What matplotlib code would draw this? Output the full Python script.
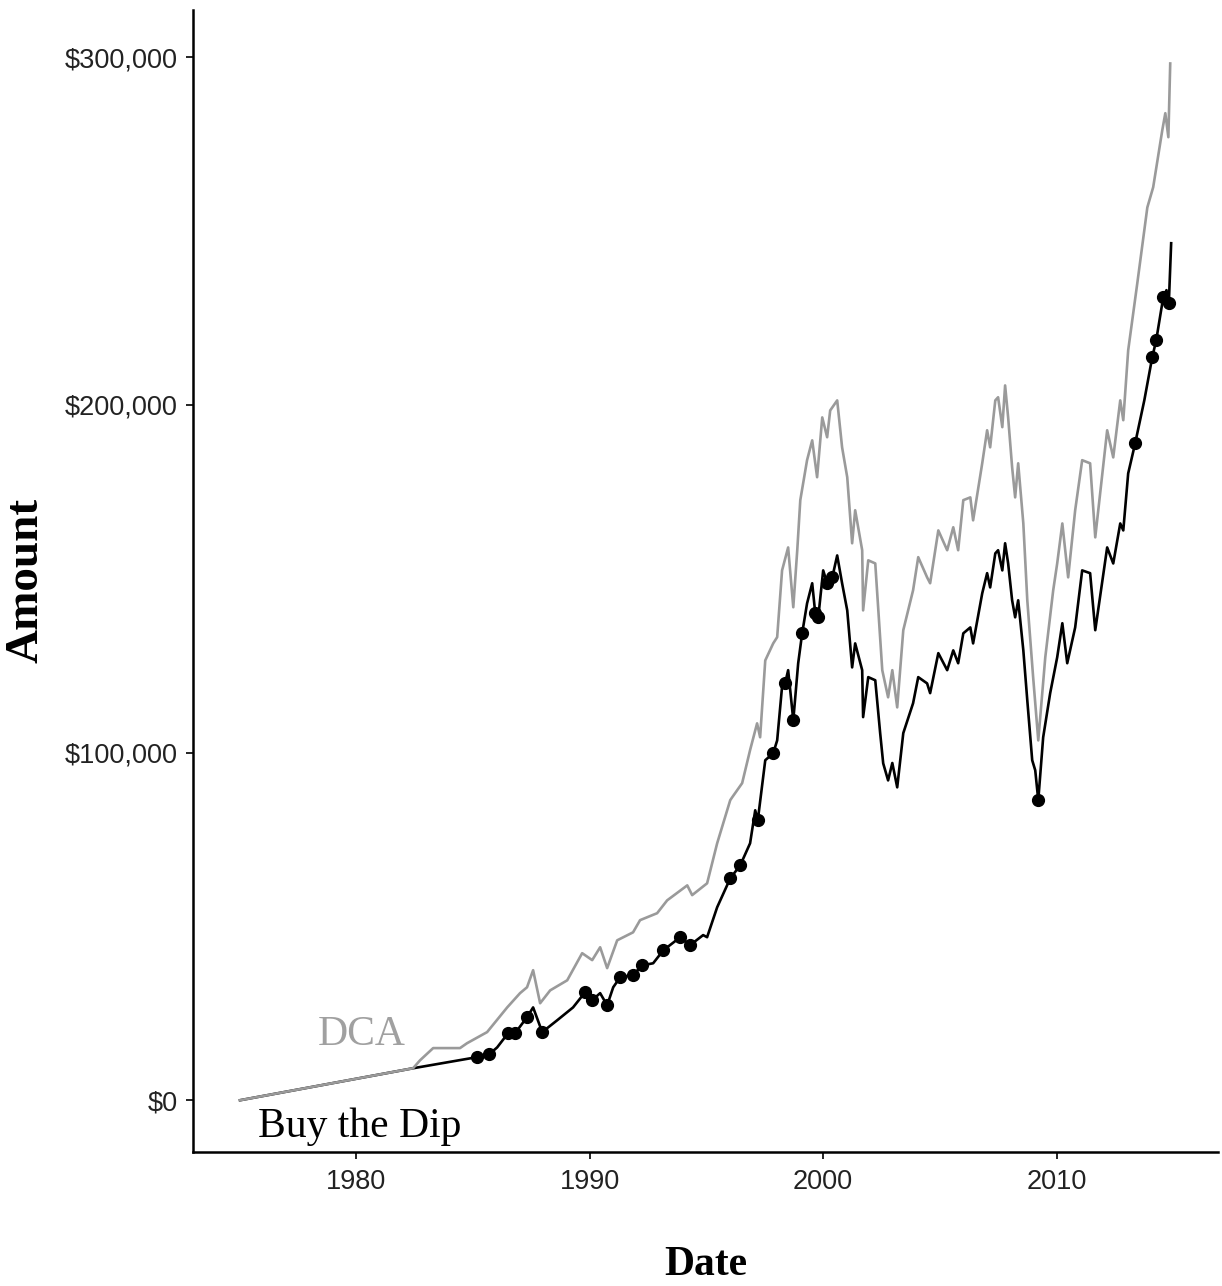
import matplotlib
matplotlib.use("Agg")
import matplotlib.pyplot as plt
from matplotlib.ticker import FuncFormatter

# --- data (decimal year, value in thousands of dollars) ---
dca_dates = [1975.03, 1982.44, 1982.74, 1983.30, 1983.81, 1984.45, 1984.75, 1985.61,
             1986.47, 1987.02, 1987.32, 1987.58, 1987.88, 1988.31, 1989.04, 1989.68,
             1990.11, 1990.45, 1990.75, 1991.18, 1991.86, 1992.16, 1992.89, 1993.32,
             1994.18, 1994.39, 1995.03, 1995.46, 1996.02, 1996.10, 1996.53, 1996.87,
             1997.17, 1997.30, 1997.52, 1997.86, 1998.03, 1998.24, 1998.50, 1998.72,
             1998.89, 1999.02, 1999.31, 1999.53, 1999.74, 1999.96, 2000.17, 2000.30,
             2000.60, 2000.81, 2001.03, 2001.24, 2001.37, 2001.67, 2001.71, 2001.93,
             2002.23, 2002.53, 2002.78, 2002.96, 2003.17, 2003.43, 2003.85, 2004.07,
             2004.45, 2004.58, 2004.93, 2005.31, 2005.57, 2005.78, 2006.00, 2006.30,
             2006.42, 2006.81, 2007.02, 2007.15, 2007.37, 2007.49, 2007.67, 2007.79,
             2007.92, 2008.09, 2008.22, 2008.35, 2008.57, 2008.74, 2008.99, 2009.21,
             2009.51, 2009.85, 2010.02, 2010.24, 2010.49, 2010.79, 2011.09, 2011.43,
             2011.65, 2012.16, 2012.42, 2012.72, 2012.85, 2013.06, 2013.45, 2013.88,
             2014.13, 2014.52, 2014.65, 2014.78, 2014.86]
dca_values = [0, 9.2, 11.5, 15.0, 15.0, 15.0, 16.4, 19.6,
              26.7, 30.8, 32.5, 37.4, 27.9, 31.6, 34.5, 42.3,
              40.3, 44.0, 38.0, 46.0, 48.3, 51.8, 53.8, 57.5,
              61.8, 59.0, 62.4, 73.9, 86.3, 87.1, 91.2, 100.7,
              108.4, 104.4, 126.5, 131.4, 133.2, 152.4, 159.0, 141.8,
              158.2, 172.6, 184.1, 189.8, 179.2, 196.4, 190.7, 198.4,
              201.3, 187.8, 179.2, 160.2, 169.7, 158.2, 140.9, 155.3,
              154.4, 123.7, 115.9, 123.7, 113.0, 135.2, 146.7, 156.2,
              150.4, 148.7, 163.9, 158.2, 164.8, 158.2, 172.6, 173.4,
              166.8, 183.2, 192.7, 187.8, 201.3, 202.2, 193.6, 205.6,
              196.4, 182.1, 173.4, 183.2, 165.9, 143.8, 121.7, 103.5,
              127.4, 146.7, 154.4, 165.9, 150.4, 169.7, 184.1, 183.2,
              161.9, 192.7, 184.9, 201.3, 195.6, 215.7, 235.0, 256.8,
              262.6, 279.0, 283.9, 277.0, 298.2]

dip_dates = [1975.03, 1982.44, 1985.18, 1985.70, 1986.04, 1986.51, 1986.81, 1987.32,
             1987.58, 1987.97, 1988.61, 1989.29, 1989.81, 1990.11, 1990.45, 1990.75,
             1991.01, 1991.31, 1991.86, 1992.25, 1992.72, 1993.15, 1993.88, 1994.30,
             1994.86, 1995.03, 1995.46, 1996.02, 1996.45, 1996.87, 1997.09, 1997.20,
             1997.52, 1997.86, 1998.03, 1998.24, 1998.37, 1998.50, 1998.59, 1998.72,
             1998.93, 1999.10, 1999.31, 1999.53, 1999.66, 1999.79, 2000.00, 2000.17,
             2000.39, 2000.60, 2000.81, 2001.03, 2001.24, 2001.37, 2001.67, 2001.71,
             2001.93, 2002.23, 2002.44, 2002.57, 2002.78, 2002.96, 2003.17, 2003.43,
             2003.85, 2004.07, 2004.45, 2004.58, 2004.93, 2005.31, 2005.57, 2005.78,
             2006.00, 2006.30, 2006.42, 2006.81, 2007.02, 2007.15, 2007.37, 2007.49,
             2007.67, 2007.79, 2007.92, 2008.09, 2008.22, 2008.35, 2008.57, 2008.74,
             2008.95, 2009.08, 2009.21, 2009.42, 2009.72, 2010.02, 2010.24, 2010.45,
             2010.79, 2011.09, 2011.43, 2011.65, 2012.16, 2012.42, 2012.72, 2012.85,
             2013.06, 2013.36, 2013.75, 2014.09, 2014.26, 2014.56, 2014.70, 2014.80,
             2014.90]
dip_values = [0, 9.2, 12.4, 13.2, 15.2, 19.3, 19.3, 23.9,
              26.7, 19.6, 23.0, 26.7, 31.1, 28.8, 30.8, 27.3,
              32.5, 35.4, 36.0, 38.8, 39.4, 43.1, 46.9, 44.6,
              47.5, 46.9, 55.5, 63.8, 67.6, 73.9, 83.4, 80.5,
              97.8, 99.8, 103.5, 119.0, 119.9, 123.7, 117.9, 109.3,
              125.7, 134.3, 142.9, 148.7, 140.1, 138.9, 152.4, 148.7,
              150.4, 156.7, 148.7, 140.9, 124.5, 131.4, 123.7, 110.2,
              121.7, 120.8, 105.6, 96.9, 92.0, 97.0, 90.0, 105.6,
              114.2, 121.7, 119.9, 117.1, 128.6, 123.7, 129.4, 125.7,
              134.3, 136.0, 131.4, 145.8, 151.6, 147.5, 157.3, 158.2,
              152.4, 160.2, 154.4, 143.8, 138.9, 143.8, 129.4, 115.0,
              97.8, 94.9, 86.3, 104.4, 117.1, 127.4, 137.2, 125.7,
              136.0, 152.4, 151.6, 135.2, 159.0, 154.4, 165.9, 163.9,
              180.3, 189.0, 201.3, 213.7, 218.6, 230.9, 233.0, 229.2,
              246.5]

# buy points (dips)
buy_dates = [1985.18, 1985.70, 1986.51, 1986.81, 1987.32, 1987.97, 1989.81, 1990.11,
             1990.75, 1991.31, 1991.86, 1992.25, 1993.15, 1993.88, 1994.30, 1996.02,
             1996.45, 1997.20, 1997.86, 1998.37, 1998.72, 1999.10, 1999.66, 1999.79,
             2000.17, 2000.39, 2009.21, 2013.36, 2014.09, 2014.26, 2014.56, 2014.80]
buy_values = [12.4, 13.2, 19.3, 19.3, 23.9, 19.6, 31.1, 28.8,
              27.3, 35.4, 36.0, 38.8, 43.1, 46.9, 44.6, 63.8,
              67.6, 80.5, 99.8, 119.9, 109.3, 134.3, 140.1, 138.9,
              148.7, 150.4, 86.3, 189.0, 213.7, 218.6, 230.9, 229.2]

year_ticks = [1980, 1990, 2000, 2010]
amount_ticks = [0, 100, 200, 300]

sans = ['Liberation Sans Narrow', 'Liberation Sans', 'DejaVu Sans']
serif = ['Liberation Serif', 'DejaVu Serif']

fig = plt.figure(figsize=(12.22, 12.86), dpi=100)
ax = fig.add_axes([0.158, 0.104, 0.839, 0.888])

gray = '#9a9a9a'
ax.plot(dip_dates, dip_values, color='black', lw=1.9, zorder=2)
ax.plot(dca_dates, dca_values, color=gray, lw=1.9, zorder=3)
ax.plot(buy_dates, buy_values, 'o', color='black', ms=8.5, zorder=4)

ax.text(1978.37, 15.8, 'DCA', color='#a0a0a0', fontsize=30, family=serif,
        ha='left', va='baseline')
ax.text(1975.8, -10.6, 'Buy the Dip', color='black', fontsize=30, family=serif,
        ha='left', va='baseline')

ax.set_xlim(1973.02, 2016.92)
ax.set_ylim(-14.96, 313.5)
ax.set_xticks(year_ticks)
ax.set_yticks(amount_ticks)
ax.yaxis.set_major_formatter(FuncFormatter(lambda v, p: '${:,.0f}'.format(v * 1000)))

for s in ['top', 'right']:
    ax.spines[s].set_visible(False)
for s in ['left', 'bottom']:
    ax.spines[s].set_linewidth(1.8)

ax.tick_params(axis='both', length=5, width=1.2, color='black', labelsize=19.5)
ax.tick_params(axis='x', pad=7)
ax.tick_params(axis='y', pad=6)
for lab in ax.get_xticklabels() + ax.get_yticklabels():
    lab.set_family(sans)
    lab.set_color('#222222')

ax.set_ylabel('Amount', fontsize=34, fontweight='bold', family=serif)
ax.set_xlabel('Date', fontsize=30, fontweight='bold', family=serif)
ax.yaxis.set_label_coords(-0.162, 0.501)
ax.xaxis.set_label_coords(0.5005, -0.099)
ax.yaxis.label.set_va('center')
ax.xaxis.label.set_va('center')

fig.savefig('out.png', dpi=100)
